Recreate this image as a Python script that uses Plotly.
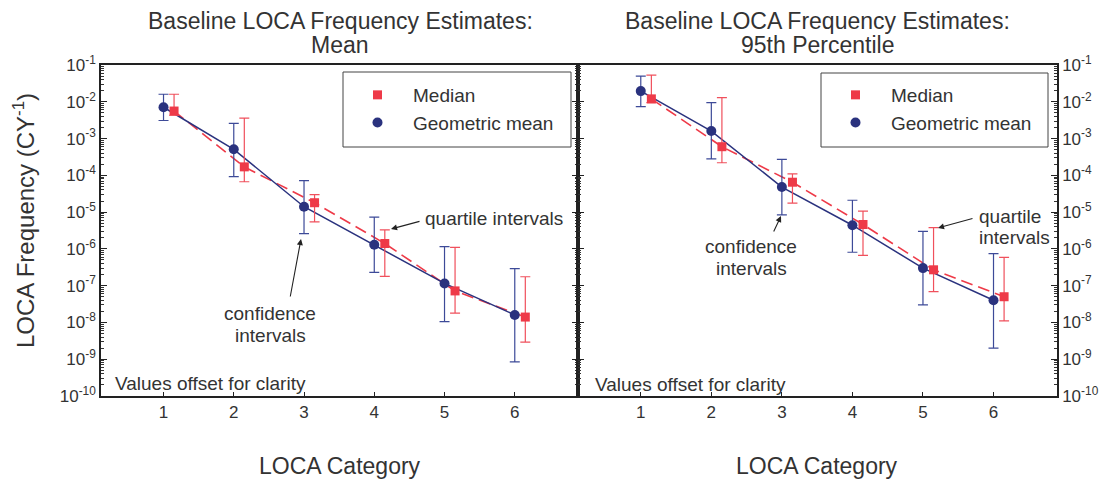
import plotly.graph_objects as go

# ---------------- data ----------------
categories = [1, 2, 3, 4, 5, 6]

# Left panel: Mean
gm_mean = [7.1e-3, 5.1e-4, 1.4e-5, 1.3e-6, 1.15e-7, 1.6e-8]
gm_mean_hi = [1.6e-2, 2.6e-3, 7.2e-5, 7.3e-6, 1.15e-6, 2.9e-7]
gm_mean_lo = [3.1e-3, 9.2e-5, 2.6e-6, 2.3e-7, 1.05e-8, 8.5e-10]
med_mean = [5.6e-3, 1.7e-4, 1.8e-5, 1.4e-6, 7.2e-8, 1.4e-8]
med_mean_hi = [1.6e-2, 3.6e-3, 3.0e-5, 3.3e-6, 1.1e-6, 1.75e-7]
med_mean_lo = [4.3e-3, 6.7e-5, 5.4e-6, 1.8e-7, 1.8e-8, 2.9e-9]

# Right panel: 95th percentile
gm_p95 = [1.95e-2, 1.6e-3, 4.8e-5, 4.4e-6, 3.0e-7, 4.0e-8]
gm_p95_hi = [5.0e-2, 9.5e-3, 2.7e-4, 2.1e-5, 3.0e-6, 7.4e-7]
gm_p95_lo = [7.4e-3, 2.8e-4, 8.4e-6, 8.1e-7, 3.0e-8, 2.0e-9]
med_p95 = [1.2e-2, 6.0e-4, 6.5e-5, 4.6e-6, 2.7e-7, 5.0e-8]
med_p95_hi = [5.3e-2, 1.3e-2, 1.1e-4, 1.06e-5, 3.8e-6, 5.9e-7]
med_p95_lo = [9.5e-3, 2.2e-4, 1.75e-5, 6.7e-7, 6.9e-8, 1.1e-8]

exponents = list(range(-1, -11, -1))
tick_vals = [10.0 ** e for e in exponents]
tick_text = ["10<sup>%d</sup>" % e for e in exponents]
minor_vals = [m * 10.0 ** e for e in range(-10, -1) for m in range(2, 10)]

# ---------------- styling ----------------
PAGE_OFF = 8          # default body margin of the page
W, H = 1119 - PAGE_OFF, 481 - PAGE_OFF
BLUE = "#2a327e"
BLUE_EB = "#3d4a98"
RED = "#ee3a48"
RED_EB = "#f0505c"
TXT = "#333333"
FONT = "Liberation Sans, Arial, sans-serif"
MED_OFFSET = 0.15


def fx(px):
    return (px - PAGE_OFF) / W


def fy(py):
    return 1 - (py - PAGE_OFF) / H


fig = go.Figure()


def add_panel(xa, ya, leg, gm, gm_hi, gm_lo, med, med_hi, med_lo):
    x_med = [c + MED_OFFSET for c in categories]
    fig.add_trace(go.Scatter(x=x_med, y=med, mode="lines", xaxis=xa, yaxis=ya,
                             line=dict(color=RED, width=1.6, dash="12px,6px"),
                             showlegend=False, hoverinfo="skip"))
    fig.add_trace(go.Scatter(x=categories, y=gm, mode="lines", xaxis=xa, yaxis=ya,
                             line=dict(color=BLUE, width=1.5),
                             showlegend=False, hoverinfo="skip"))
    fig.add_trace(go.Scatter(
        x=x_med, y=med, mode="markers", name="Median", xaxis=xa, yaxis=ya,
        legend=leg, legendrank=1,
        marker=dict(symbol="square", size=9, color=RED),
        error_y=dict(type="data", symmetric=False,
                     array=[h - v for h, v in zip(med_hi, med)],
                     arrayminus=[v - l for v, l in zip(med, med_lo)],
                     color=RED_EB, thickness=1.2, width=5)))
    fig.add_trace(go.Scatter(
        x=categories, y=gm, mode="markers", name="Geometric mean", xaxis=xa, yaxis=ya,
        legend=leg, legendrank=2,
        marker=dict(symbol="circle", size=10, color=BLUE),
        error_y=dict(type="data", symmetric=False,
                     array=[h - v for h, v in zip(gm_hi, gm)],
                     arrayminus=[v - l for v, l in zip(gm, gm_lo)],
                     color=BLUE_EB, thickness=1.2, width=5)))


add_panel("x", "y", "legend", gm_mean, gm_mean_hi, gm_mean_lo, med_mean, med_mean_hi, med_mean_lo)
add_panel("x2", "y2", "legend2", gm_p95, gm_p95_hi, gm_p95_lo, med_p95, med_p95_hi, med_p95_lo)

xaxis_common = dict(range=[0.11, 6.9], tickmode="array", tickvals=categories,
                    ticks="inside", ticklen=4, tickcolor="#222",
                    showline=True, linecolor="#222", linewidth=1.5, mirror=True,
                    showgrid=False, zeroline=False, automargin=False,
                    tickfont=dict(family=FONT, size=17, color=TXT))
yaxis_common = dict(type="log", range=[-10, -1], tickmode="array",
                    tickvals=tick_vals, ticktext=tick_text,
                    ticks="inside", ticklen=6, tickwidth=1.3, tickcolor="#222",
                    minor=dict(tickmode="array", tickvals=minor_vals, ticks="inside",
                               ticklen=3, tickcolor="#333", showgrid=False),
                    showline=True, linecolor="#222", linewidth=1.5, mirror="ticks",
                    showgrid=False, zeroline=False, automargin=False,
                    domain=[fy(396), fy(65)],
                    tickfont=dict(family=FONT, size=17, color=TXT))

legend_common = dict(xanchor="left", yanchor="top", bgcolor="rgba(0,0,0,0)",
                     borderwidth=0, itemwidth=61, tracegroupgap=0,
                     font=dict(family=FONT, size=19, color=TXT))

fig.update_layout(
    width=W, height=H,
    margin=dict(l=0, r=0, t=0, b=0),
    paper_bgcolor="white", plot_bgcolor="white",
    font=dict(family=FONT, color=TXT),
    xaxis=dict(domain=[fx(101), fx(578)], anchor="y", **xaxis_common),
    xaxis2=dict(domain=[fx(578), fx(1057)], anchor="y2", **xaxis_common),
    yaxis=dict(anchor="x", side="left", **yaxis_common),
    yaxis2=dict(anchor="x2", side="right", **yaxis_common),
    legend=dict(x=fx(342), y=fy(76), **legend_common),
    legend2=dict(x=fx(820), y=fy(76), **legend_common),
)

# legend frames
for (x0, y0, x1, y1) in [(343, 72, 571, 147), (821, 73, 1048, 147)]:
    fig.add_shape(type="rect", xref="paper", yref="paper",
                  x0=fx(x0), x1=fx(x1), y0=fy(y1), y1=fy(y0),
                  line=dict(color="#444", width=1), fillcolor="rgba(0,0,0,0)")


def text(px, py, s, size, xanchor="center"):
    fig.add_annotation(x=fx(px), y=fy(py), xref="paper", yref="paper", text=s,
                       showarrow=False, xanchor=xanchor, yanchor="middle",
                       font=dict(family=FONT, size=size, color=TXT))


def arrow(x0, y0, x1, y1):
    # tail (x0,y0) -> head (x1,y1), pixel coordinates of the page
    fig.add_annotation(x=fx(x1), y=fy(y1), xref="paper", yref="paper",
                       ax=x0 - x1, ay=y0 - y1, axref="pixel", ayref="pixel",
                       text="", showarrow=True, arrowhead=2, arrowsize=1.1,
                       arrowwidth=1.1, arrowcolor="#222")


# titles
text(340, 21, "Baseline LOCA Frequency Estimates:", 23)
text(340, 45, "Mean", 23)
text(817, 21, "Baseline LOCA Frequency Estimates:", 23)
text(817, 45, "95th Percentile", 23)

# axis titles
text(339.5, 466, "LOCA Category", 23)
text(817, 466, "LOCA Category", 23)
fig.add_annotation(x=fx(24), y=fy(221), xref="paper", yref="paper",
                   text="LOCA Frequency (CY<sup>-1</sup>)", showarrow=False,
                   textangle=-90, xanchor="center", yanchor="middle",
                   font=dict(family=FONT, size=24, color=TXT))

# notes
text(113, 383, "Values offset for clarity", 19, "left")
text(593, 384, "Values offset for clarity", 19, "left")

# left panel callouts
text(423, 219, "quartile intervals", 19, "left")
arrow(421, 221, 391, 229)
text(270, 313, "confidence", 19)
text(270, 335, "intervals", 19)
arrow(290, 298, 301, 239)

# right panel callouts
text(751, 247, "confidence", 19)
text(751, 268, "intervals", 19)
arrow(773, 233, 781, 216)
text(977, 216, "quartile", 19, "left")
text(977, 238, "intervals", 19, "left")
arrow(974, 218, 938, 228)

fig.write_html("out.html")
